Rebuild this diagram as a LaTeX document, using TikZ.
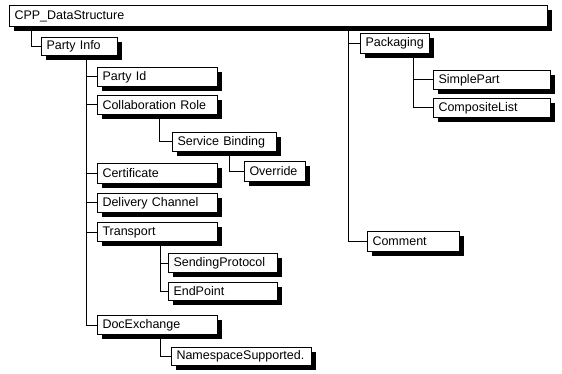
\documentclass[tikz,border=0pt]{standalone}
\usepackage{fontspec}
\setmainfont{Liberation Sans}
\usetikzlibrary{shadows}

\tikzset{
  elem/.style={draw, line width=1pt, fill=white, anchor=north west,
    inner xsep=5pt, inner ysep=0pt, align=left,
    font=\fontsize{12.5}{14}\selectfont,
    drop shadow={shadow xshift=4.5pt, shadow yshift=-4.5pt, fill=black, opacity=1}},
  link/.style={line width=1pt}
}

\begin{document}
\begin{tikzpicture}[x=1pt, y=-1pt]
  \useasboundingbox (0,0) rectangle (562,374);

  % Root
  \node[elem, text width=528, minimum height=21] (root) at (9,5) {CPP\_DataStructure};

  % Party info branch
  \node[elem, text width=66, minimum height=18] (partyinfo) at (41,37) {Party Info};
  \node[elem, text width=110, minimum height=19] (partyid) at (97,67) {Party Id};
  \node[elem, text width=110, minimum height=19] (collabrole) at (97,95) {Collaboration Role};
  \node[elem, text width=94, minimum height=19] (servbind) at (172,132) {Service Binding};
  \node[elem, text width=51, minimum height=20] (override) at (244,161) {Override};
  \node[elem, text width=110, minimum height=20] (certificate) at (97,163) {Certificate};
  \node[elem, text width=110, minimum height=19] (delivery) at (97,193) {Delivery Channel};
  \node[elem, text width=110, minimum height=19] (transport) at (97,222) {Transport};
  \node[elem, text width=99, minimum height=19] (sendproto) at (168,253) {SendingProtocol};
  \node[elem, text width=99, minimum height=18] (endpoint) at (168,282) {EndPoint};
  \node[elem, text width=110, minimum height=19] (docexchange) at (97,315) {DocExchange};
  \node[elem, text width=130, minimum height=18] (namespace) at (171,347) {NamespaceSupported.};

  % Packaging branch
  \node[elem, text width=59, minimum height=20] (packaging) at (360,33) {Packaging};
  \node[elem, text width=107, minimum height=19] (simplepart) at (433,70) {SimplePart};
  \node[elem, text width=107, minimum height=19] (complist) at (433,98) {CompositeList};
  \node[elem, text width=82, minimum height=20] (comment) at (367,231) {Comment};

  % Links
  \draw[link] ([xshift=22pt]root.south west) |- (partyinfo.west);
  \draw[link] ([xshift=339pt]root.south west) |- (packaging.west);
  \draw[link] ([xshift=339pt]root.south west) |- (comment.west);

  \foreach \kid in {partyid, collabrole, certificate, delivery, transport, docexchange}
    \draw[link] ([xshift=45pt]partyinfo.south west) |- (\kid.west);

  \draw[link] ([xshift=62pt]collabrole.south west) |- (servbind.west);
  \draw[link] ([xshift=57pt]servbind.south west) |- (override.west);
  \draw[link] ([xshift=63pt]transport.south west) |- (sendproto.west);
  \draw[link] ([xshift=63pt]transport.south west) |- (endpoint.west);
  \draw[link] ([xshift=63pt]docexchange.south west) |- (namespace.west);
  \draw[link] ([xshift=53pt]packaging.south west) |- (simplepart.west);
  \draw[link] ([xshift=53pt]packaging.south west) |- (complist.west);
\end{tikzpicture}
\end{document}
